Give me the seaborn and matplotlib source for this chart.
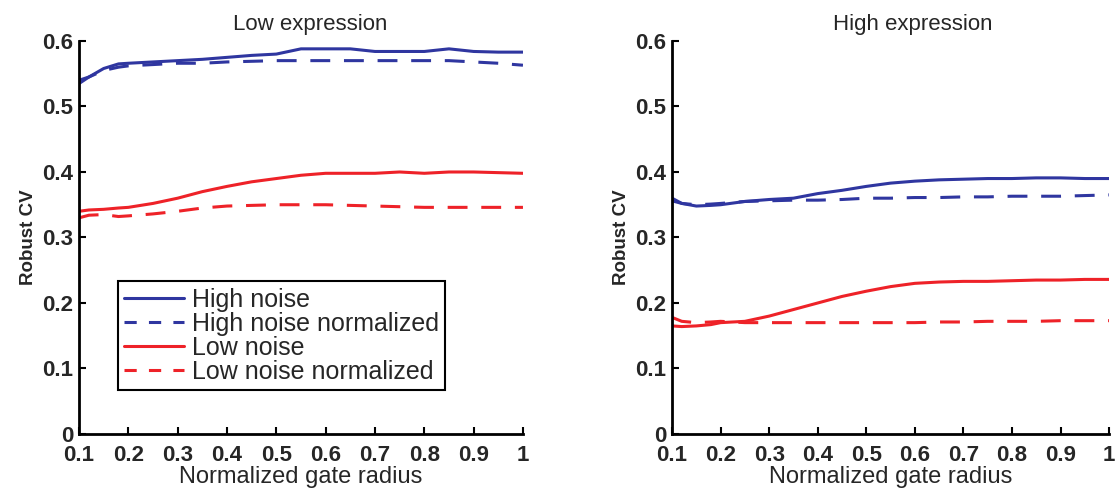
import numpy as np
import pandas as pd
import matplotlib
matplotlib.use("Agg")
import matplotlib.pyplot as plt
from matplotlib.lines import Line2D
import seaborn as sns

# ---- data ----
x_pts = [0.10, 0.12, 0.15, 0.18, 0.20, 0.25, 0.30, 0.35, 0.40, 0.45, 0.50,
         0.55, 0.60, 0.65, 0.70, 0.75, 0.80, 0.85, 0.90, 0.95, 1.00]

low_high_noise = [0.540, 0.545, 0.558, 0.565, 0.566, 0.568, 0.570, 0.572, 0.575, 0.578, 0.580,
                  0.588, 0.588, 0.588, 0.584, 0.584, 0.584, 0.588, 0.584, 0.583, 0.583]
low_high_norm = [0.535, 0.545, 0.555, 0.560, 0.562, 0.564, 0.566, 0.566, 0.568, 0.569, 0.570,
                 0.570, 0.570, 0.570, 0.570, 0.570, 0.570, 0.570, 0.568, 0.566, 0.563]
low_low_noise = [0.340, 0.342, 0.343, 0.345, 0.346, 0.352, 0.360, 0.370, 0.378, 0.385, 0.390,
                 0.395, 0.398, 0.398, 0.398, 0.400, 0.398, 0.400, 0.400, 0.399, 0.398]
low_low_norm = [0.330, 0.334, 0.335, 0.332, 0.333, 0.336, 0.340, 0.345, 0.348, 0.349, 0.350,
                0.350, 0.350, 0.349, 0.348, 0.347, 0.346, 0.346, 0.346, 0.346, 0.346]

high_high_noise = [0.360, 0.352, 0.348, 0.349, 0.350, 0.355, 0.358, 0.360, 0.367, 0.372, 0.378,
                   0.383, 0.386, 0.388, 0.389, 0.390, 0.390, 0.391, 0.391, 0.390, 0.390]
high_high_norm = [0.356, 0.352, 0.350, 0.351, 0.352, 0.355, 0.356, 0.357, 0.357, 0.358, 0.360,
                  0.360, 0.361, 0.361, 0.362, 0.362, 0.363, 0.363, 0.363, 0.364, 0.365]
high_low_noise = [0.165, 0.164, 0.165, 0.167, 0.170, 0.172, 0.180, 0.190, 0.200, 0.210, 0.218,
                  0.225, 0.230, 0.232, 0.233, 0.233, 0.234, 0.235, 0.235, 0.236, 0.236]
high_low_norm = [0.178, 0.172, 0.170, 0.171, 0.172, 0.170, 0.170, 0.170, 0.170, 0.170, 0.170,
                 0.170, 0.170, 0.171, 0.171, 0.172, 0.172, 0.172, 0.173, 0.173, 0.173]

series_names = ["High noise", "High noise normalized", "Low noise", "Low noise normalized"]
panel_titles = ["Low expression", "High expression"]
x_ticks = [0.1, 0.2, 0.3, 0.4, 0.5, 0.6, 0.7, 0.8, 0.9, 1.0]
x_tick_labels = ["0.1", "0.2", "0.3", "0.4", "0.5", "0.6", "0.7", "0.8", "0.9", "1"]
y_ticks = [0, 0.1, 0.2, 0.3, 0.4, 0.5, 0.6]
y_tick_labels = ["0", "0.1", "0.2", "0.3", "0.4", "0.5", "0.6"]

BLUE = "#2f36a0"
RED = "#ee2228"
colors = [BLUE, BLUE, RED, RED]
dashes = [False, True, False, True]
DASH = (0, (6.5, 4.5))

sns.set_style("ticks")
plt.rcParams["font.family"] = ["Liberation Sans", "DejaVu Sans"]
plt.rcParams["xtick.direction"] = "in"
plt.rcParams["ytick.direction"] = "in"

fig = plt.figure(figsize=(11.16, 4.92), dpi=100)
ax1 = fig.add_axes([0.0708, 0.1179, 0.3978, 0.7988])
ax2 = fig.add_axes([0.6022, 0.1179, 0.3916, 0.7988])

panels = [
    (ax1, [low_high_noise, low_high_norm, low_low_noise, low_low_norm], 0.52),
    (ax2, [high_high_noise, high_high_norm, high_low_noise, high_low_norm], 0.55),
]

for i, (ax, ys, tx) in enumerate(panels):
    for name, y, c, d in zip(series_names, ys, colors, dashes):
        df = pd.DataFrame({"x": x_pts, "y": y})
        sns.lineplot(data=df, x="x", y="y", ax=ax, color=c, linewidth=2.2,
                     legend=False, linestyle=DASH if d else "-")
    ax.set_xlim(0.1, 1.0)
    ax.set_ylim(0, 0.6)
    ax.set_xticks(x_ticks)
    ax.set_xticklabels(x_tick_labels, fontsize=16, fontweight="bold")
    ax.set_yticks(y_ticks)
    ax.set_yticklabels(y_tick_labels, fontsize=16, fontweight="bold")
    ax.tick_params(axis="x", length=5, width=1.5, color="black", pad=8)
    ax.tick_params(axis="y", length=5, width=1.5, color="black", pad=4)
    for s in ["top", "right"]:
        ax.spines[s].set_visible(False)
    for s in ["left", "bottom"]:
        ax.spines[s].set_linewidth(2)
        ax.spines[s].set_color("black")
    ax.set_xlabel("Normalized gate radius", fontsize=17, labelpad=0)
    ax.set_ylabel("Robust CV", fontsize=13.5, fontweight="bold", labelpad=4)
    ax.set_title(panel_titles[i], fontsize=16, pad=8, x=tx)

handles = [Line2D([], [], color=c, linewidth=2.2,
                  linestyle=(0, (4, 4)) if d else "-")
           for c, d in zip(colors, dashes)]
leg = ax1.legend(handles, series_names, loc="lower left", bbox_to_anchor=(0.0878, 0.112),
                 fontsize=18, frameon=True, fancybox=False, framealpha=1,
                 edgecolor="black", handlelength=2.4, handletextpad=0.3,
                 labelspacing=0.0, borderpad=0.25, borderaxespad=0)
leg.get_frame().set_linewidth(1.5)

fig.savefig("out.png", dpi=100)
